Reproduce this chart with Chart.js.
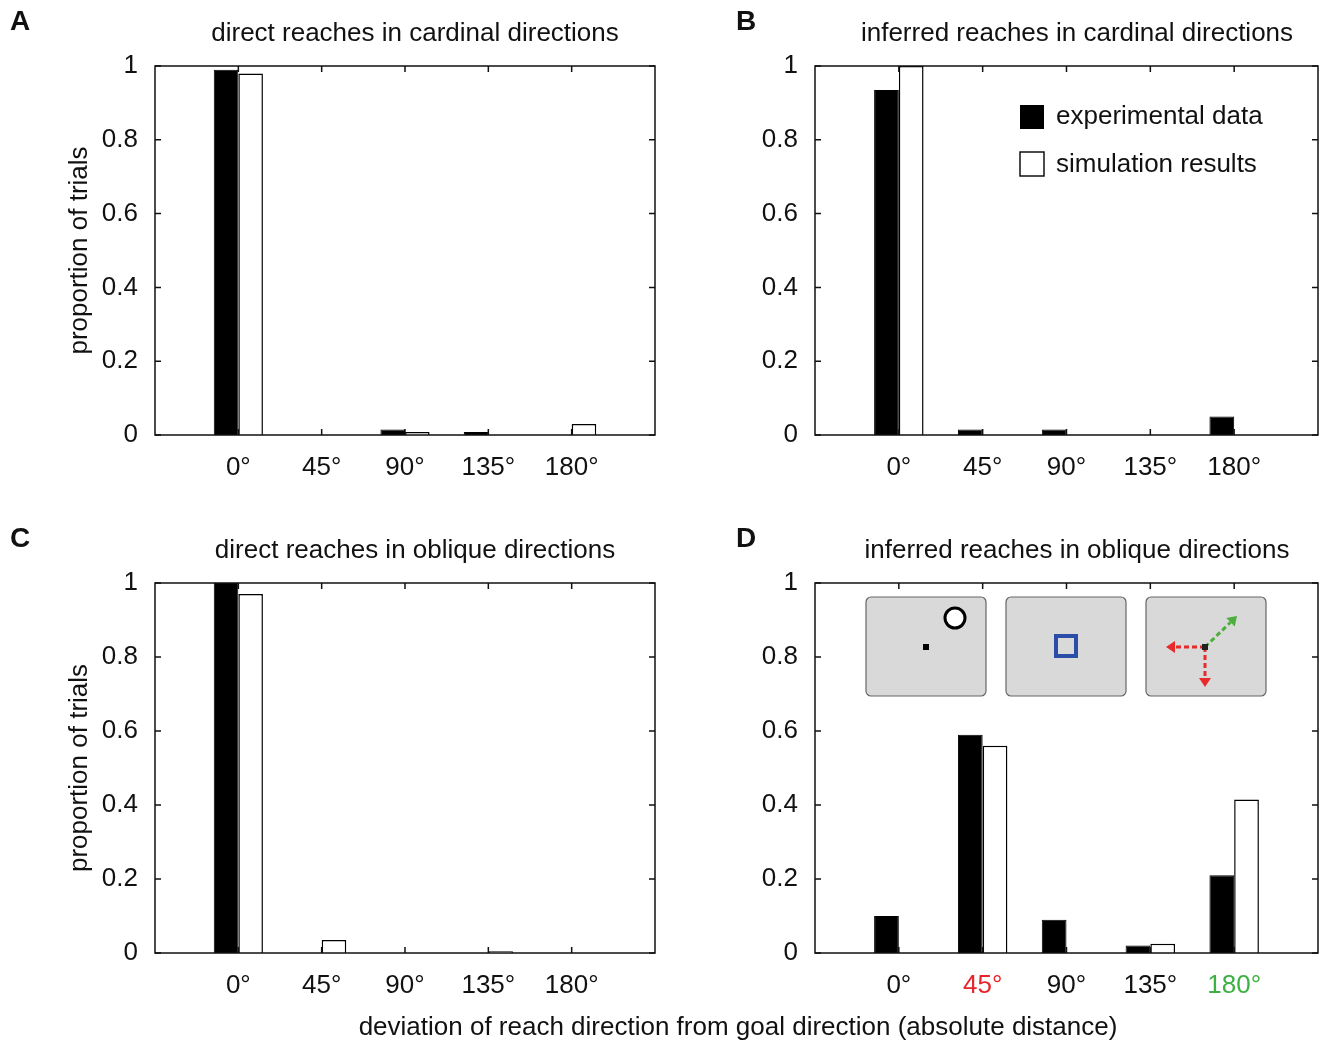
<!DOCTYPE html>
<html><head><meta charset="utf-8">
<script src="https://cdn.jsdelivr.net/npm/chart.js@4"></script>
<style>
body{margin:0;background:#fff;width:1321px;height:1043px;position:relative;overflow:hidden;font-family:"Liberation Sans",Arial,sans-serif}
.p{position:absolute}
#xl{position:absolute;left:0;width:1476px;top:1011px;text-align:center;font-size:26px;color:#111}
</style></head><body>
<div class="p" style="left:0;top:0;width:660px;height:520px"><canvas id="a"></canvas></div>
<div class="p" style="left:660px;top:0;width:661px;height:520px"><canvas id="b"></canvas></div>
<div class="p" style="left:0;top:517px;width:660px;height:526px"><canvas id="c"></canvas></div>
<div class="p" style="left:660px;top:517px;width:661px;height:526px"><canvas id="d"></canvas></div>
<div id="xl">deviation of reach direction from goal direction (absolute distance)</div>
<script>
const labels = ["", "0°", "45°", "90°", "135°", "180°", ""];
const yTicks = [0, 0.2, 0.4, 0.6, 0.8, 1];
const expA = [null, 0.99, 0, 0.015, 0.008, 0, null];
const simA = [null, 0.98, 0, 0.008, 0, 0.03, null];
const expB = [null, 0.935, 0.015, 0.015, 0, 0.05, null];
const simB = [null, 1.0, 0, 0, 0, 0, null];
const expC = [null, 1.0, 0, 0, 0, 0, null];
const simC = [null, 0.97, 0.035, 0, 0.005, 0, null];
const expD = [null, 0.10, 0.59, 0.09, 0.02, 0.21, null];
const simD = [null, 0, 0.56, 0, 0.025, 0.415, null];
const FONT = '"Liberation Sans", Arial, sans-serif';

function arrow(ctx, x1, y1, x2, y2, col) {
  ctx.save();
  ctx.strokeStyle = col; ctx.fillStyle = col; ctx.lineWidth = 3; ctx.setLineDash([5, 3]);
  const a = Math.atan2(y2 - y1, x2 - x1);
  const ex = x2 - 9 * Math.cos(a), ey = y2 - 9 * Math.sin(a);
  ctx.beginPath(); ctx.moveTo(x1, y1); ctx.lineTo(ex, ey); ctx.stroke();
  ctx.setLineDash([]);
  ctx.beginPath(); ctx.moveTo(x2, y2);
  ctx.lineTo(ex + 6 * Math.sin(a), ey - 6 * Math.cos(a));
  ctx.lineTo(ex - 6 * Math.sin(a), ey + 6 * Math.cos(a));
  ctx.closePath(); ctx.fill();
  ctx.restore();
}

function panel(id, letter, title, exp, sim, opts) {
  new Chart(document.getElementById(id), {
    type: "bar",
    data: {
      labels: labels,
      datasets: [
        { label: "experimental data", data: exp, backgroundColor: "#000", borderColor: "#000", borderWidth: 1 },
        { label: "simulation results", data: sim, backgroundColor: "#fff", borderColor: "#000", borderWidth: 1.5 },
      ],
    },
    options: {
      responsive: true,
      maintainAspectRatio: false,
      animation: false,
      layout: { padding: { left: 0, right: opts.right, top: 66, bottom: 0 } },
      datasets: { bar: { categoryPercentage: 0.59, barPercentage: 1 } },
      scales: {
        x: {
          offset: false,
          grid: { display: false },
          border: { display: false },
          afterFit: (s) => { s.height = opts.xh; s.paddingLeft = 0; s.paddingRight = 0; },
          ticks: {
            autoSkip: false, maxRotation: 0, padding: 9,
            font: { size: 26, family: FONT },
            color: (c) => (opts.colors ? opts.colors[c.index] : "#111"),
          },
        },
        y: {
          min: 0, max: 1,
          grid: { display: false },
          border: { display: false },
          afterFit: (s) => { s.width = 155; },
          afterBuildTicks: (s) => { s.ticks = yTicks.map((v) => ({ value: v })); },
          ticks: { padding: 9, font: { size: 26, family: FONT }, color: "#111",
            callback: (v) => String(Math.round(v * 10) / 10) },
        },
      },
      plugins: { legend: { display: false }, tooltip: { enabled: false } },
    },
    plugins: [{
      id: "frame",
      afterDraw(chart) {
        const ctx = chart.ctx, a = chart.chartArea;
        const xs = chart.scales.x, ys = chart.scales.y;
        ctx.save();
        ctx.strokeStyle = "#111"; ctx.lineWidth = 1.5;
        ctx.strokeRect(a.left, a.top, a.right - a.left, a.bottom - a.top);
        ctx.beginPath();
        for (let i = 1; i <= 5; i++) {
          const x = xs.getPixelForTick(i);
          ctx.moveTo(x, a.bottom); ctx.lineTo(x, a.bottom - 6);
          ctx.moveTo(x, a.top); ctx.lineTo(x, a.top + 6);
        }
        yTicks.forEach((v) => {
          const y = ys.getPixelForValue(v);
          ctx.moveTo(a.left, y); ctx.lineTo(a.left + 6, y);
          ctx.moveTo(a.right, y); ctx.lineTo(a.right - 6, y);
        });
        ctx.stroke();
        ctx.fillStyle = "#111";
        ctx.font = "bold 28px " + FONT;
        ctx.textAlign = "left"; ctx.textBaseline = "middle";
        ctx.fillText(letter, opts.lx, 22);
        ctx.font = "26px " + FONT; ctx.textAlign = "center";
        ctx.fillText(title, opts.tx, 34);
        if (opts.ylab) {
          ctx.save();
          ctx.translate(80, (a.top + a.bottom) / 2);
          ctx.rotate(-Math.PI / 2);
          ctx.fillText("proportion of trials", 0, 0);
          ctx.restore();
        }
        if (opts.legend) {
          ctx.fillStyle = "#000";
          ctx.fillRect(360, 105, 24, 24);
          ctx.fillStyle = "#fff"; ctx.lineWidth = 1.5;
          ctx.fillRect(360, 152, 24, 24); ctx.strokeRect(360, 152, 24, 24);
          ctx.fillStyle = "#111"; ctx.textAlign = "left";
          ctx.fillText("experimental data", 396, 117);
          ctx.fillText("simulation results", 396, 165);
        }
        if (opts.insets) {
          [206, 346, 486].forEach((x) => {
            ctx.fillStyle = "#d9d9d9"; ctx.strokeStyle = "#666"; ctx.lineWidth = 1.2;
            ctx.beginPath(); ctx.roundRect(x, 80, 120, 99, 5); ctx.fill(); ctx.stroke();
          });
          ctx.fillStyle = "#fff"; ctx.strokeStyle = "#000"; ctx.lineWidth = 3;
          ctx.beginPath(); ctx.arc(295, 101, 10, 0, 2 * Math.PI); ctx.fill(); ctx.stroke();
          ctx.fillStyle = "#000"; ctx.fillRect(263, 127, 6, 6);
          ctx.strokeStyle = "#2a4ea8"; ctx.lineWidth = 4;
          ctx.strokeRect(396, 119, 20, 20);
          arrow(ctx, 545, 130, 506, 130, "#e82a2a");
          arrow(ctx, 545, 130, 545, 170, "#e82a2a");
          arrow(ctx, 545, 130, 577, 99, "#4caf3c");
          ctx.fillStyle = "#222"; ctx.fillRect(542, 127, 6, 6);
        }
        ctx.restore();
      },
    }],
  });
}

panel("a", "A", "direct reaches in cardinal directions", expA, simA,
  { right: 5, xh: 85, lx: 10, tx: 415, ylab: true });
panel("b", "B", "inferred reaches in cardinal directions", expB, simB,
  { right: 3, xh: 85, lx: 76, tx: 417, legend: true });
panel("c", "C", "direct reaches in oblique directions", expC, simC,
  { right: 5, xh: 90, lx: 10, tx: 415, ylab: true });
panel("d", "D", "inferred reaches in oblique directions", expD, simD,
  { right: 3, xh: 90, lx: 76, tx: 417, insets: true,
    colors: ["#111", "#111", "#e8232a", "#111", "#111", "#3cb043", "#111"] });
</script>
</body></html>
